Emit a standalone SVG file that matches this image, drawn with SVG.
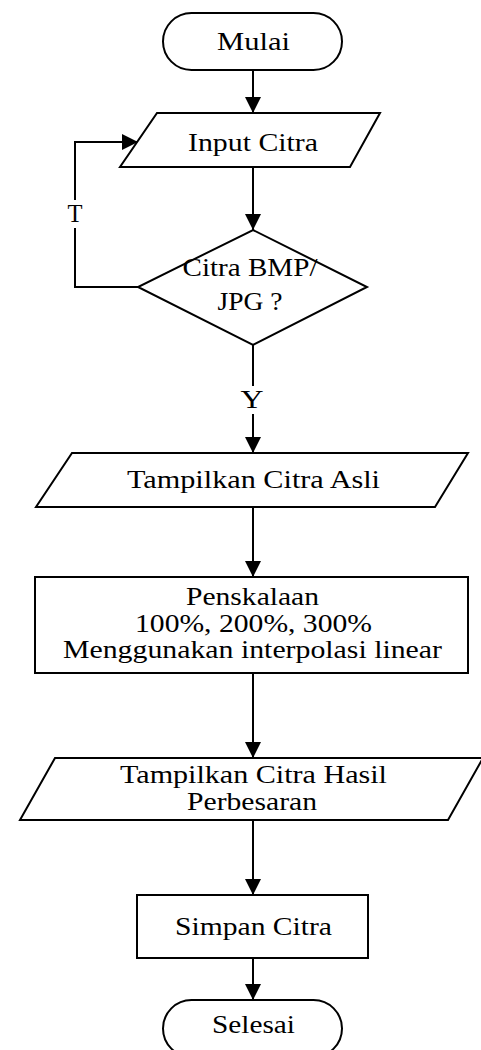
<svg xmlns="http://www.w3.org/2000/svg" width="481" height="1050" viewBox="0 0 481 1050">
<style>
.s{fill:#fff;stroke:#000;stroke-width:2}
.t{font-family:"Liberation Serif","Times New Roman",serif;font-size:25px;fill:#000;text-anchor:middle}
.c{fill:none;stroke:#000;stroke-width:2}
</style>
<defs>
<marker id="ah" markerUnits="userSpaceOnUse" markerWidth="16" markerHeight="16" refX="16" refY="8" orient="auto">
<path d="M0,0 L16,8 L0,16 Z" fill="#000"/>
</marker>
</defs>
<rect width="481" height="1050" fill="#fff"/>
<g id="connectors">
<line class="c" x1="253" y1="70" x2="253" y2="113" marker-end="url(#ah)"/>
<line class="c" x1="253" y1="167" x2="253" y2="230" marker-end="url(#ah)"/>
<line class="c" x1="253" y1="345" x2="253" y2="386"/>
<line class="c" x1="253" y1="414" x2="253" y2="453" marker-end="url(#ah)"/>
<polyline class="c" points="138,287 75,287 75,228"/>
<polyline class="c" points="75,200 75,142 138,142" marker-end="url(#ah)"/>
<line class="c" x1="253" y1="507" x2="253" y2="577" marker-end="url(#ah)"/>
<line class="c" x1="253" y1="673" x2="253" y2="758" marker-end="url(#ah)"/>
<line class="c" x1="253" y1="820" x2="253" y2="895" marker-end="url(#ah)"/>
<line class="c" x1="253" y1="958" x2="253" y2="1000" marker-end="url(#ah)"/>
<text class="t" x="75" y="222" textLength="15" lengthAdjust="spacingAndGlyphs">T</text>
<text class="t" x="252" y="408" textLength="23" lengthAdjust="spacingAndGlyphs">Y</text>
</g>
<g id="mulai">
<rect class="s" x="163" y="13" width="179" height="57" rx="28.5" ry="28.5"/>
<text class="t" x="253.5" y="50" textLength="73" lengthAdjust="spacingAndGlyphs">Mulai</text>
</g>
<g id="input">
<polygon class="s" points="157,113 380,113 350,167 120,167"/>
<text class="t" x="253" y="151" textLength="130" lengthAdjust="spacingAndGlyphs">Input Citra</text>
</g>
<g id="decision">
<polygon class="s" points="253,230 367,287 253,345 138,287"/>
<text class="t" x="250" y="276" textLength="135" lengthAdjust="spacingAndGlyphs">Citra BMP/</text>
<text class="t" x="250" y="310" textLength="65" lengthAdjust="spacingAndGlyphs">JPG ?</text>
</g>
<g id="tampil-asli">
<polygon class="s" points="72,453 468,453 435,507 36,507"/>
<text class="t" x="253.5" y="488" textLength="253" lengthAdjust="spacingAndGlyphs">Tampilkan Citra Asli</text>
</g>
<g id="penskalaan">
<rect class="s" x="35" y="577" width="433" height="96"/>
<text class="t" x="252.5" y="605" textLength="133" lengthAdjust="spacingAndGlyphs">Penskalaan</text>
<text class="t" x="253.5" y="632" textLength="237" lengthAdjust="spacingAndGlyphs">100%, 200%, 300%</text>
<text class="t" x="252.5" y="658" textLength="379" lengthAdjust="spacingAndGlyphs">Menggunakan interpolasi linear</text>
</g>
<g id="tampil-hasil">
<polygon class="s" points="55,758 483,758 448,820 20,820"/>
<text class="t" x="253.5" y="783" textLength="267" lengthAdjust="spacingAndGlyphs">Tampilkan Citra Hasil</text>
<text class="t" x="252" y="810" textLength="130" lengthAdjust="spacingAndGlyphs">Perbesaran</text>
</g>
<g id="simpan">
<rect class="s" x="137" y="895" width="231" height="63"/>
<text class="t" x="253.5" y="935" textLength="157" lengthAdjust="spacingAndGlyphs">Simpan Citra</text>
</g>
<g id="selesai">
<rect class="s" x="163" y="1000" width="179" height="57" rx="28.5" ry="28.5"/>
<text class="t" x="253.5" y="1033" textLength="83" lengthAdjust="spacingAndGlyphs">Selesai</text>
</g>
</svg>
